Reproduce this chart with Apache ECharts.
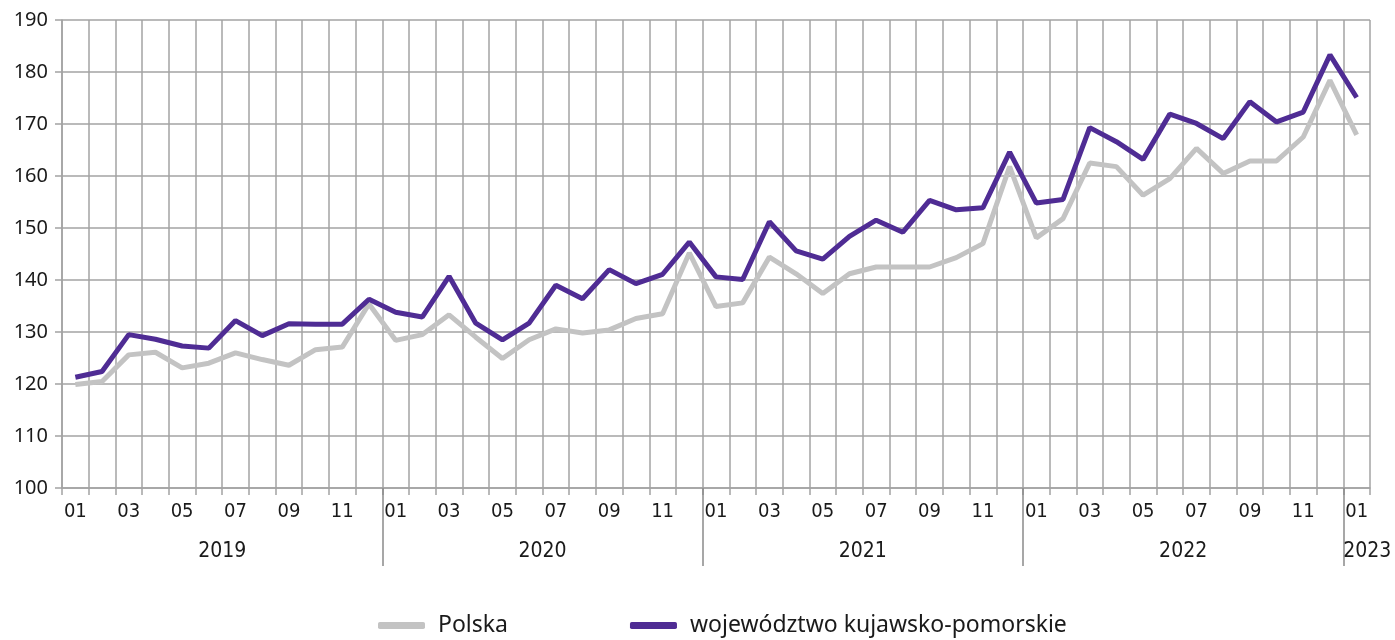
<!DOCTYPE html>
<html>
<head>
<meta charset="utf-8">
<script src="https://cdn.jsdelivr.net/npm/echarts@6/dist/echarts.min.js"></script>
<style>
  html, body { margin: 0; padding: 0; background: #fff; }
  #chart { width: 1395px; height: 640px; }
</style>
</head>
<body>
<div id="chart"></div>
<script>
const years = ['2019', '2020', '2021', '2022', '2023'];
const months = ['01', '02', '03', '04', '05', '06', '07', '08', '09', '10', '11', '12'];
const categories = [];
years.forEach(y => months.forEach(m => categories.push(y + '-' + m)));
categories.length = 49; // 2019-01 .. 2023-01

const polska = [
  119.9, 120.5, 125.6, 126.1, 123.1, 124.0, 126.0, 124.7, 123.6, 126.6, 127.1, 135.4,
  128.4, 129.5, 133.3, 129.0, 124.9, 128.5, 130.6, 129.8, 130.4, 132.6, 133.5, 145.2,
  134.9, 135.6, 144.4, 141.2, 137.4, 141.2, 142.5, 142.5, 142.5, 144.3, 147.0, 161.8,
  148.1, 151.8, 162.5, 161.8, 156.3, 159.5, 165.3, 160.5, 162.9, 162.9, 167.5, 178.4,
  167.9
];
const kujPom = [
  121.3, 122.4, 129.5, 128.6, 127.3, 126.9, 132.2, 129.3, 131.6, 131.5, 131.5, 136.3,
  133.8, 132.9, 140.7, 131.7, 128.5, 131.7, 139.0, 136.4, 142.0, 139.3, 141.1, 147.3,
  140.6, 140.1, 151.2, 145.6, 144.0, 148.4, 151.5, 149.2, 155.3, 153.5, 153.9, 164.6,
  154.8, 155.5, 169.3, 166.6, 163.2, 171.9, 170.1, 167.2, 174.3, 170.4, 172.3, 183.3,
  175.1
];

// year labels sit in the middle of each year's months, separators at year boundaries
const yearLabelPos = [6, 18, 30, 42, 48.9];
const yearSeparators = [12, 24, 36, 48];

const gridColor = '#a3a3a3';
const font = 'Noto Sans';
const narrow = "'DejaVu Sans Condensed', 'Noto Sans', sans-serif";

const chart = echarts.init(document.getElementById('chart'));
chart.setOption({
  animation: false,
  grid: { left: 62, right: 25, top: 20, bottom: 152, containLabel: false },
  legend: {
    top: 609,
    left: 373,
    icon: 'roundRect',
    itemWidth: 47,
    itemHeight: 7,
    itemGap: 122,
    textStyle: { fontFamily: font, fontSize: 23, color: '#1a1a1a', padding: [0, 0, 0, 8] },
    data: ['Polska', 'województwo kujawsko-pomorskie']
  },
  xAxis: [
    {
      type: 'category',
      data: categories,
      boundaryGap: true,
      axisLine: { lineStyle: { color: gridColor, width: 1.5 } },
      axisTick: { show: true, interval: 0, length: 7, lineStyle: { color: gridColor, width: 1.5 } },
      splitLine: { show: true, interval: 0, lineStyle: { color: gridColor, width: 1.5 } },
      axisLabel: {
        interval: 1,
        margin: 14,
        fontFamily: narrow,
        fontSize: 20,
        color: '#1a1a1a',
        formatter: v => v.slice(5)
      }
    },
    {
      type: 'value',
      position: 'bottom',
      min: 0,
      max: 49,
      axisLine: { show: false },
      splitLine: { show: false },
      axisTick: {
        show: true,
        customValues: yearSeparators,
        length: 78,
        lineStyle: { color: '#8a8a8a', width: 1.5 }
      },
      axisLabel: {
        customValues: yearLabelPos,
        margin: 53,
        fontFamily: narrow,
        fontSize: 21,
        color: '#1a1a1a',
        formatter: v => years[yearLabelPos.indexOf(v)]
      }
    }
  ],
  yAxis: {
    type: 'value',
    min: 100,
    max: 190,
    interval: 10,
    axisLine: { show: true, lineStyle: { color: gridColor, width: 1.5 } },
    axisTick: { show: true, length: 7, lineStyle: { color: gridColor, width: 1.5 } },
    splitLine: { show: true, lineStyle: { color: gridColor, width: 1.5 } },
    axisLabel: { margin: 14, fontFamily: font, fontSize: 20, color: '#1a1a1a' }
  },
  series: [
    {
      name: 'Polska',
      type: 'line',
      data: polska,
      symbol: 'none',
      lineStyle: { color: '#c3c3c3', width: 5 },
      itemStyle: { color: '#c3c3c3' },
      z: 2
    },
    {
      name: 'województwo kujawsko-pomorskie',
      type: 'line',
      data: kujPom,
      symbol: 'none',
      lineStyle: { color: '#4f2c94', width: 5 },
      itemStyle: { color: '#4f2c94' },
      z: 3
    }
  ]
});
</script>
</body>
</html>
